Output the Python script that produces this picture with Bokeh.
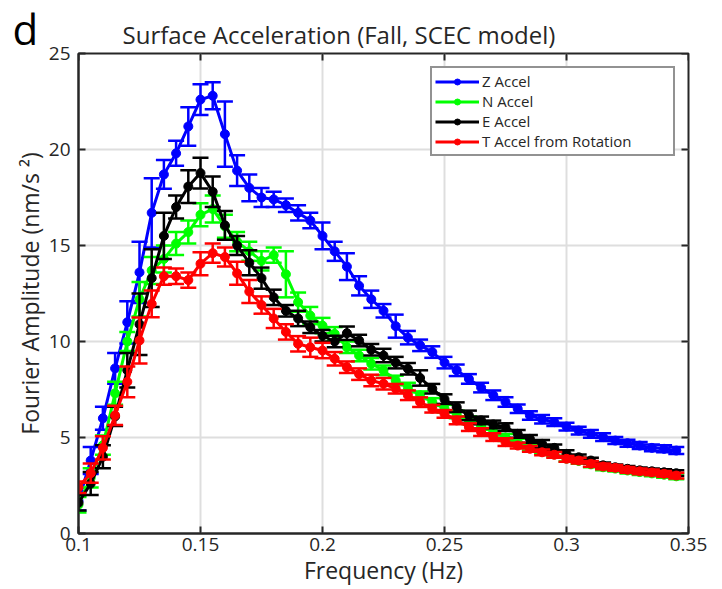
import math
from bokeh.plotting import figure
from bokeh.models import Range1d, Legend, LegendItem, Label, FixedTicker, ColumnDataSource
from bokeh.embed import file_html
from bokeh.resources import INLINE

# ---------------- data ----------------
freq = [0.100, 0.105, 0.110, 0.115, 0.120, 0.125, 0.130, 0.135, 0.140, 0.145,
        0.150, 0.155, 0.160, 0.165, 0.170, 0.175, 0.180, 0.185, 0.190, 0.195,
        0.200, 0.205, 0.210, 0.215, 0.220, 0.225, 0.230, 0.235, 0.240, 0.245,
        0.250, 0.255, 0.260, 0.265, 0.270, 0.275, 0.280, 0.285, 0.290, 0.295,
        0.300, 0.305, 0.310, 0.315, 0.320, 0.325, 0.330, 0.335, 0.340, 0.345]

z_accel = [1.7, 3.8, 6.0, 8.6, 11.0, 13.6, 16.7, 18.7, 19.8, 21.2,
           22.6, 22.8, 20.8, 18.9, 18.0, 17.5, 17.4, 17.1, 16.7, 16.3,
           15.5, 14.7, 13.9, 12.9, 12.2, 11.6, 10.8, 10.2, 9.8, 9.45,
           8.9, 8.5, 8.05, 7.6, 7.2, 6.85, 6.5, 6.15, 5.95, 5.8,
           5.57, 5.36, 5.19, 5.02, 4.84, 4.7, 4.58, 4.46, 4.41, 4.32]
z_err = [0.5, 0.7, 0.6, 0.8, 1.1, 1.6, 1.8, 0.75, 0.65, 1.0,
         0.8, 0.7, 1.7, 0.8, 0.7, 0.5, 0.4, 0.35, 0.4, 0.4,
         0.7, 0.5, 0.7, 0.5, 0.45, 0.35, 0.6, 0.35, 0.3, 0.3,
         0.3, 0.3, 0.25, 0.25, 0.25, 0.25, 0.22, 0.22, 0.22, 0.2,
         0.2, 0.2, 0.2, 0.2, 0.18, 0.18, 0.18, 0.18, 0.18, 0.18]

n_accel = [1.5, 2.9, 4.6, 7.3, 10.0, 12.2, 13.7, 14.3, 15.1, 15.7,
           16.6, 16.9, 16.0, 15.2, 14.7, 14.2, 14.5, 13.5, 12.05, 11.35,
           10.83, 10.4, 9.7, 9.27, 8.84, 8.5, 7.97, 7.6, 7.2, 6.85,
           6.5, 6.2, 5.9, 5.6, 5.3, 5.0, 4.75, 4.5, 4.3, 4.12,
           3.9, 3.78, 3.6, 3.45, 3.38, 3.28, 3.2, 3.13, 3.06, 2.98]
n_err = [0.4, 0.5, 0.5, 0.6, 0.5, 0.9, 0.7, 0.7, 0.6, 0.6,
         0.6, 0.7, 0.6, 0.5, 0.5, 0.5, 0.4, 1.2, 0.5, 0.45,
         0.4, 0.35, 0.3, 0.3, 0.3, 0.25, 0.25, 0.25, 0.2, 0.2,
         0.2, 0.2, 0.2, 0.2, 0.2, 0.18, 0.18, 0.18, 0.15, 0.15,
         0.15, 0.15, 0.15, 0.15, 0.15, 0.15, 0.15, 0.15, 0.15, 0.15]

e_accel = [1.6, 2.6, 4.0, 6.1, 8.5, 10.9, 13.3, 15.5, 17.0, 18.07,
           18.77, 17.8, 16.05, 15.0, 14.1, 13.3, 12.3, 11.6, 11.2, 10.74,
           10.3, 10.0, 10.43, 10.05, 9.57, 9.27, 8.9, 8.58, 8.1, 7.54,
           7.0, 6.58, 6.15, 5.89, 5.68, 5.54, 5.19, 4.93, 4.67, 4.46,
           4.15, 3.97, 3.8, 3.55, 3.45, 3.37, 3.29, 3.24, 3.19, 3.14]
e_err = [0.4, 0.6, 0.6, 0.5, 0.9, 1.6, 1.5, 1.2, 0.6, 0.85,
         0.8, 0.8, 0.75, 0.5, 0.65, 0.55, 0.4, 0.3, 0.4, 0.3,
         0.3, 0.3, 0.35, 0.3, 0.3, 0.35, 0.3, 0.3, 0.4, 0.25,
         0.25, 0.25, 0.25, 0.2, 0.2, 0.2, 0.2, 0.2, 0.2, 0.18,
         0.18, 0.15, 0.15, 0.15, 0.15, 0.15, 0.15, 0.15, 0.15, 0.15]

t_accel = [2.41, 3.14, 4.46, 6.15, 7.9, 10.05, 11.96, 13.4, 13.4, 13.2,
           14.05, 14.6, 14.4, 13.55, 12.6, 11.9, 11.2, 10.5, 9.88, 9.7,
           9.53, 9.1, 8.66, 8.3, 7.97, 7.8, 7.54, 7.2, 6.84, 6.5,
           6.23, 5.89, 5.54, 5.28, 5.02, 4.76, 4.58, 4.41, 4.23, 4.1,
           3.89, 3.8, 3.63, 3.49, 3.42, 3.32, 3.24, 3.18, 3.11, 3.02]
t_err = [0.3, 0.5, 0.6, 0.5, 0.8, 1.2, 0.7, 0.45, 0.4, 0.4,
         0.6, 0.5, 0.5, 0.6, 0.6, 0.45, 0.5, 0.4, 0.4, 0.5,
         0.4, 0.35, 0.3, 0.3, 0.3, 0.3, 0.25, 0.25, 0.25, 0.2,
         0.2, 0.2, 0.2, 0.2, 0.2, 0.2, 0.15, 0.15, 0.15, 0.15,
         0.15, 0.15, 0.15, 0.15, 0.15, 0.15, 0.15, 0.15, 0.15, 0.15]

series_names = ["Z Accel", "N Accel", "E Accel", "T Accel from Rotation"]
series_colors = ["#0000ff", "#00ff00", "#000000", "#ff0000"]

x_ticks = [0.1, 0.15, 0.2, 0.25, 0.3, 0.35]
x_tick_labels = ["0.1", "0.15", "0.2", "0.25", "0.3", "0.35"]
y_ticks = [0, 5, 10, 15, 20, 25]
y_tick_labels = ["0", "5", "10", "15", "20", "25"]

title_text = "Surface Acceleration (Fall, SCEC model)"
x_label = "Frequency (Hz)"
y_label = "Fourier Amplitude (nm/s \u00b2)"
panel_tag = "d"

# ---------------- figure ----------------
FONT = "Open Sans"
AX = "#262626"
X0, X1, Y0, Y1 = 0.1, 0.35, 0, 25
W, H = 722, 589
BL, BR, BT, BB = 78, 34, 53, 56

p = figure(width=W, height=H, output_backend="svg", toolbar_location=None,
           x_range=Range1d(X0, X1), y_range=Range1d(Y0, Y1),
           min_border_left=BL, min_border_right=BR, min_border_top=BT, min_border_bottom=BB,
           background_fill_color="white", border_fill_color="white")
p.outline_line_color = AX
p.outline_line_width = 2

p.title.text = title_text
p.title.align = "left"
p.title.offset = 44
p.title.text_font = FONT
p.title.text_font_size = "24px"
p.title.text_font_style = "normal"
p.title.text_color = AX
p.title.standoff = 5

xt = FixedTicker(ticks=x_ticks)
yt = FixedTicker(ticks=y_ticks)

xa = p.xaxis[0]
ya = p.yaxis[0]
xa.ticker = xt
ya.ticker = yt
xa.major_label_overrides = {v: s for v, s in zip(x_ticks, x_tick_labels)}
ya.major_label_overrides = {v: s for v, s in zip(y_ticks, y_tick_labels)}
for ax in (xa, ya):
    ax.major_tick_in = 7
    ax.major_tick_out = 0
    ax.minor_tick_line_color = None
    ax.axis_line_color = AX
    ax.axis_line_width = 2
    ax.major_tick_line_color = AX
    ax.major_tick_line_width = 2
    ax.major_label_text_font = FONT
    ax.major_label_text_color = AX
    ax.major_label_text_font_size = "19px"
    ax.axis_label_text_font = FONT
    ax.axis_label_text_font_size = "23px"
    ax.axis_label_text_font_style = "normal"
    ax.axis_label_text_color = AX
    ax.axis_label_standoff = 0
xa.major_label_standoff = 4
ya.major_label_standoff = 8
xa.axis_label = x_label
ya.axis_label = y_label

# inward ticks on the top and right edges (half of each mark is clipped by the frame)
p.scatter(x=x_ticks, y=[Y1] * len(x_ticks), marker="dash", angle=math.pi / 2, size=14,
          line_color=AX, line_width=2)
p.scatter(x=[X1] * len(y_ticks), y=y_ticks, marker="dash", size=14,
          line_color=AX, line_width=2)

p.xgrid.ticker = xt
p.ygrid.ticker = yt
for g in (p.xgrid, p.ygrid):
    g.grid_line_color = "#dedede"
    g.grid_line_width = 2

items = []
all_vals = [z_accel, n_accel, e_accel, t_accel]
all_errs = [z_err, n_err, e_err, t_err]
for name, vals, errs, color in zip(series_names, all_vals, all_errs, series_colors):
    lo = [v - e for v, e in zip(vals, errs)]
    hi = [v + e for v, e in zip(vals, errs)]
    src = ColumnDataSource(dict(f=freq, v=vals, lo=lo, hi=hi))
    p.segment(x0="f", y0="lo", x1="f", y1="hi", source=src, line_color=color, line_width=2.5)
    p.scatter(x="f", y="lo", source=src, marker="dash", size=16, line_color=color, line_width=2.5)
    p.scatter(x="f", y="hi", source=src, marker="dash", size=16, line_color=color, line_width=2.5)
    ln = p.line(x="f", y="v", source=src, line_color=color, line_width=3)
    mk = p.scatter(x="f", y="v", source=src, marker="circle", size=9,
                   fill_color=color, line_color=color)
    items.append(LegendItem(label=name, renderers=[ln, mk]))

legend = Legend(items=items, location="top_right", margin=13,
                glyph_width=44, glyph_height=15, label_height=15, label_width=188,
                spacing=0, padding=3, label_standoff=3,
                label_text_font=FONT, label_text_font_size="15px", label_text_color=AX,
                border_line_color=AX, border_line_width=2,
                background_fill_color="white", background_fill_alpha=1.0)
p.add_layout(legend)

# panel tag "d": held by the (otherwise empty) right side panel so the frame does not clip it;
# its screen position is measured from that panel, which starts at the frame's right edge
tag = Label(x=12 - (W - BR), y=505, x_units="screen", y_units="screen", text=panel_tag,
            text_font=FONT, text_font_size="42px", text_color="black",
            text_baseline="alphabetic", text_align="left")
p.add_layout(tag, "right")

open("out.html", "w").write(file_html(p, INLINE))
